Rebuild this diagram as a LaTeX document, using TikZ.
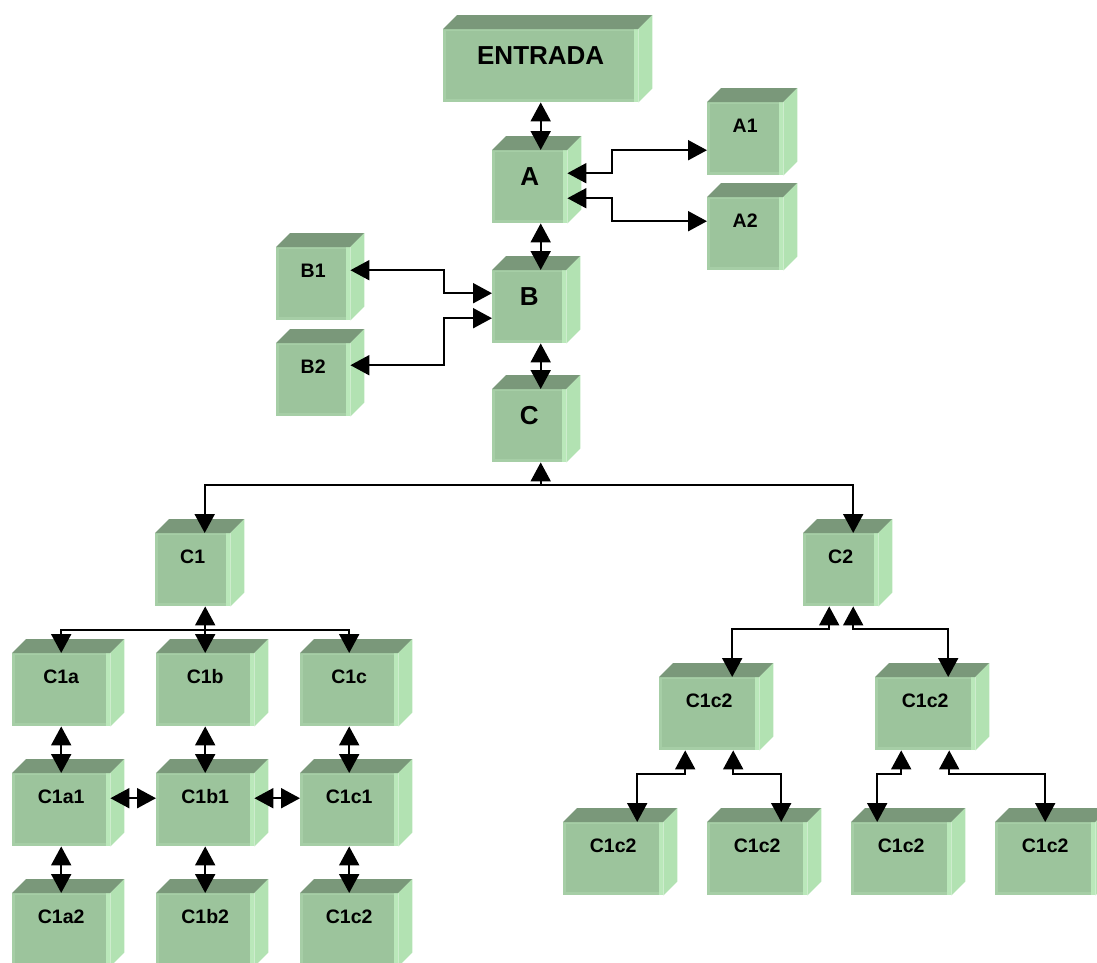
\documentclass[tikz,border=0pt]{standalone}
\usepackage{fontspec}
\setmainfont{Liberation Sans}
\usetikzlibrary{arrows.meta,calc}

\definecolor{cubefront}{RGB}{156,196,156}
\definecolor{cubeedge}{RGB}{166,206,166}
\definecolor{cubetop}{RGB}{122,152,122}
\definecolor{cubeside}{RGB}{178,226,178}
\definecolor{cubeglow}{RGB}{186,232,186}

\begin{document}
\begin{tikzpicture}[
  x=1pt, y=-1pt,
  cube/.style={fill=cubefront, inner sep=0pt, anchor=north west,
               minimum width=#1, text height=30pt, text depth=43pt,
               font=\bfseries\fontsize{19.5}{20}\selectfont,
               path picture={
                 \fill[cubeedge] (path picture bounding box.north west) rectangle
                   ([xshift=3pt]path picture bounding box.south west);
                 \fill[cubeedge] (path picture bounding box.north west) rectangle
                   ([yshift=-2pt]path picture bounding box.north east);
                 \fill[cubeedge] (path picture bounding box.south west) rectangle
                   ([yshift=3pt]path picture bounding box.south east);
                 \fill[cubeglow] (path picture bounding box.north east) rectangle
                   ([xshift=-4pt]path picture bounding box.south east);
               }},
  bigcube/.style={cube=#1, text height=35pt, text depth=38pt,
                  font=\bfseries\fontsize{26}{28}\selectfont},
  sig/.style={draw=black, line width=2pt, -{Triangle[length=19pt,width=20pt]}},
  bisig/.style={draw=black, line width=2pt,
                {Triangle[length=19pt,width=20pt]}-{Triangle[length=19pt,width=20pt]}},
]
\useasboundingbox (0,0) rectangle (1097,962);

% ---------- main chain ----------
\node[bigcube=195] (entrada) at (443,29)  {ENTRADA};
\node[bigcube=75]  (a)       at (492,150) {A};
\node[bigcube=74]  (b)       at (492,270) {B};
\node[bigcube=74]  (c)       at (492,389) {C};

% ---------- side branches ----------
\node[cube=76] (a1) at (707,102) {A1};
\node[cube=76] (a2) at (707,197) {A2};
\node[cube=74] (b1) at (276,247) {B1};
\node[cube=74] (b2) at (276,343) {B2};

% ---------- C subtrees ----------
\node[cube=75] (c1) at (155,533) {C1};
\node[cube=75] (c2) at (803,533) {C2};

\node[cube=98] (c1a)  at (12,653)  {C1a};
\node[cube=98] (c1b)  at (156,653) {C1b};
\node[cube=98] (c1c)  at (300,653) {C1c};
\node[cube=98] (c1a1) at (12,773)  {C1a1};
\node[cube=98] (c1b1) at (156,773) {C1b1};
\node[cube=98] (c1c1) at (300,773) {C1c1};
\node[cube=98] (c1a2) at (12,893)  {C1a2};
\node[cube=98] (c1b2) at (156,893) {C1b2};
\node[cube=98] (c1c2) at (300,893) {C1c2};

\node[cube=100] (c2a)  at (659,677) {C1c2};
\node[cube=100] (c2b)  at (875,677) {C1c2};
\node[cube=100] (c2a1) at (563,822) {C1c2};
\node[cube=100] (c2a2) at (707,822) {C1c2};
\node[cube=100] (c2b1) at (851,822) {C1c2};
\node[cube=100] (c2b2) at (995,822) {C1c2};

% ---------- 3d faces ----------
\foreach \n in {entrada,a,b,c,a1,a2,b1,b2,c1,c2,c1a,c1b,c1c,c1a1,c1b1,c1c1,
                c1a2,c1b2,c1c2,c2a,c2b,c2a1,c2a2,c2b1,c2b2} {
  \fill[cubetop] (\n.north west) -- ++(14,-14)
    -- ([shift={(14pt,14pt)}]\n.north east) -- (\n.north east) -- cycle;
  \fill[cubeside] (\n.north east) -- ++(14,-14)
    -- ([shift={(14pt,14pt)}]\n.south east) -- (\n.south east) -- cycle;
}

% ---------- chain links ----------
\draw[bisig] (entrada.south) -- (entrada.south |- a.north);
\draw[bisig] (entrada.south |- a.south) -- (entrada.south |- b.north);
\draw[bisig] (entrada.south |- b.south) -- (entrada.south |- c.north);

\draw[bisig] ([yshift=13.5pt]a.east) -- ++(45,0) |- ([yshift=-11.5pt]a1.west);
\draw[bisig] ([yshift=-11.5pt]a.east) -- ++(45,0) |- ([yshift=12.5pt]a2.west);
\draw[bisig] ([yshift=13.5pt]b1.east) -- ++(94,0) |- ([yshift=13.5pt]b.west);
\draw[bisig] ([yshift=14.5pt]b2.east) -- ++(94,0) |- ([yshift=-11.5pt]b.west);

% ---------- C bus ----------
\coordinate (cbus) at ($(entrada.south |- c.south)+(0,23)$);
\draw[sig] (cbus) -- (cbus |- c.south);
\draw[sig] (cbus) -| ([xshift=12pt]c1.north);
\draw[sig] (cbus) -| ([xshift=12.5pt]c2.north);

% ---------- C1 grid ----------
\coordinate (c1bus) at ($(c1b.north)+(0,-23)$);
\draw[sig] (c1bus) -- (c1bus |- c1.south);
\draw[sig] (c1bus) -- (c1b.north);
\draw[sig] (c1bus) -| (c1a.north);
\draw[sig] (c1bus) -| (c1c.north);

\foreach \u/\v in {c1a/c1a1, c1a1/c1a2, c1b/c1b1, c1b1/c1b2, c1c/c1c1, c1c1/c1c2}
  \draw[bisig] (\u.south) -- (\v.north);
\foreach \u/\v in {c1a1/c1b1, c1b1/c1c1}
  \draw[bisig] ([yshift=11.5pt]\u.east) -- ([yshift=11.5pt]\v.west);

% ---------- C2 tree ----------
\draw[bisig] ([xshift=-11.5pt]c2.south) -- ++(0,23) -| ([xshift=23pt]c2a.north);
\draw[bisig] ([xshift=12.5pt]c2.south) -- ++(0,23) -| ([xshift=23pt]c2b.north);
\draw[bisig] ([xshift=-24pt]c2a.south) -- ++(0,24) -| ([xshift=24pt]c2a1.north);
\draw[bisig] ([xshift=24pt]c2a.south) -- ++(0,24) -| ([xshift=24pt]c2a2.north);
\draw[bisig] ([xshift=-24pt]c2b.south) -- ++(0,24) -| ([xshift=-24pt]c2b1.north);
\draw[bisig] ([xshift=24pt]c2b.south) -- ++(0,24) -| (c2b2.north);

\end{tikzpicture}
\end{document}
